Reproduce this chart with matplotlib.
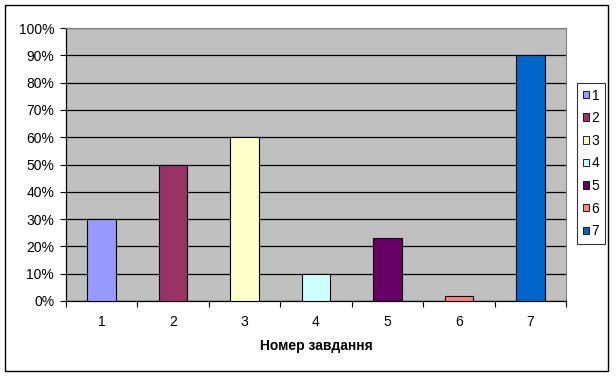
import matplotlib.pyplot as plt
from matplotlib.patches import Patch, Rectangle
from matplotlib.ticker import FuncFormatter
import numpy as np

plt.rcParams['font.family'] = ['Liberation Sans', 'DejaVu Sans']

# Дані
categories = ["1", "2", "3", "4", "5", "6", "7"]
values = [0.30, 0.50, 0.60, 0.10, 0.23, 0.02, 0.90]
colors = ["#9999FF", "#993366", "#FFFFCC", "#CCFFFF", "#660066", "#FF8080", "#0066CC"]
y_ticks = [0.0, 0.1, 0.2, 0.3, 0.4, 0.5, 0.6, 0.7, 0.8, 0.9, 1.0]
x_label = "Номер завдання"

FS = 10

fig = plt.figure(figsize=(6.16, 3.76), dpi=100)
ax = fig.add_axes([66 / 616, 1 - 301 / 376, 500 / 616, 273 / 376])
ax.set_facecolor("#C0C0C0")

x = np.arange(len(categories))
ax.bar(x, values, width=0.4, color=colors, edgecolor="black", linewidth=0.8, zorder=3)

ax.set_ylim(0, 1)
ax.set_xlim(-0.5, len(categories) - 0.5)
ax.set_yticks(y_ticks)
ax.yaxis.set_major_formatter(FuncFormatter(lambda v, p: f"{v * 100:.0f}%"))
ax.grid(axis="y", color="black", linewidth=0.9, zorder=1)

ax.set_xticks(x)
ax.set_xticklabels(categories)
ax.set_xticks(np.arange(-0.5, len(categories)), minor=True)
ax.tick_params(axis="x", which="major", length=0, pad=10, labelsize=FS)
ax.tick_params(axis="x", which="minor", length=4, width=0.8, direction="out")
ax.tick_params(axis="y", length=4, width=0.8, direction="out", labelsize=FS, pad=4.5)

for s in ["left", "bottom"]:
    ax.spines[s].set_color("black")
    ax.spines[s].set_linewidth(0.9)
for s in ["top", "right"]:
    ax.spines[s].set_color("#808080")
    ax.spines[s].set_linewidth(0.8)

ax.set_xlabel(x_label, fontsize=FS, fontweight="bold", labelpad=7)

handles = [Patch(facecolor=c, edgecolor="black", linewidth=0.6) for c in colors]
leg = fig.legend(handles, categories, loc="upper left",
                 bbox_to_anchor=(577 / 616, 1 - 83 / 376), fontsize=FS,
                 frameon=True, fancybox=False, edgecolor="black",
                 handlelength=0.45, handleheight=0.45, handletextpad=0.2,
                 labelspacing=0.62, borderpad=0.4, borderaxespad=0)
leg.get_frame().set_linewidth(0.8)

# рамка навколо діаграми
fig.patches.append(Rectangle((5 / 616, 5 / 376), 603 / 616, 366 / 376,
                             transform=fig.transFigure, fill=False,
                             edgecolor="black", linewidth=1.0))

fig.savefig("out.png", dpi=100)
